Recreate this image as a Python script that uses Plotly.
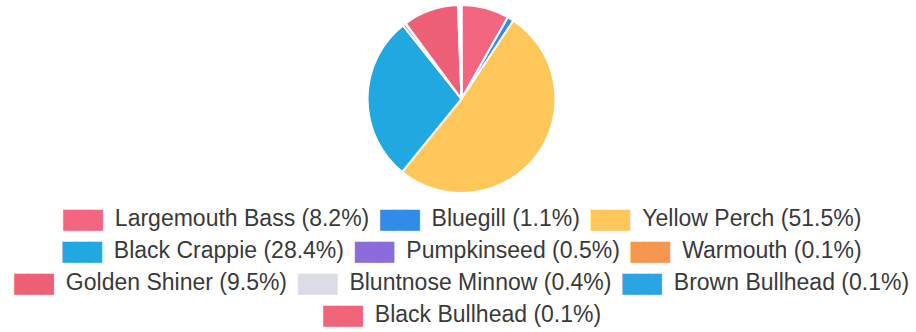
import plotly.graph_objects as go

# Catch composition by species (percent of total)
species = [
    "Largemouth Bass", "Bluegill", "Yellow Perch", "Black Crappie", "Pumpkinseed",
    "Warmouth", "Golden Shiner", "Bluntnose Minnow", "Brown Bullhead", "Black Bullhead",
]
share_pct = [8.2, 1.1, 51.5, 28.4, 0.5, 0.1, 9.5, 0.4, 0.1, 0.1]
slice_colors = [
    "#F2667F", "#2F8DE8", "#FFC65A", "#22A8E0", "#8C6CD8",
    "#F7964F", "#EE6078", "#DCDCE6", "#2AA4E2", "#EF6479",
]
# legend entries per row (indices into species)
legend_rows = [[0, 1, 2], [3, 4, 5], [6, 7, 8], [9]]

W, H = 916, 332
TEXT_FONT = "Liberation Sans, Arial, sans-serif"
TEXT_COLOR = "#3a3a3a"
NB = "\u00a0"
ITEM_GAP = "\u2002"

fig = go.Figure(
    go.Pie(
        labels=species,
        values=share_pct,
        sort=False,
        direction="clockwise",
        rotation=0,
        marker=dict(colors=slice_colors, line=dict(color="white", width=2)),
        textinfo="none",
        showlegend=False,
        domain=dict(x=[367.5 / W, 555.5 / W], y=[1 - 193 / H, 1 - 5 / H]),
    )
)


def swatch(color):
    # solid colour box built from full-block glyphs; the stroke closes the seams
    return (
        f'<span style="font-family:DejaVu Sans;font-size:16.5px;'
        f'stroke:{color};stroke-width:1.2px;color:{color}">\u2588\u2588\u2588</span>'
    )


row_centers = [218, 250, 282, 314]
for row, yc in zip(legend_rows, row_centers):
    items = [
        swatch(slice_colors[i]) + NB * 2 + f"{species[i]} ({share_pct[i]:.1f}%)"
        for i in row
    ]
    fig.add_annotation(
        x=461.5 / W,
        y=1 - yc / H,
        xref="paper",
        yref="paper",
        xanchor="center",
        yanchor="middle",
        showarrow=False,
        text=ITEM_GAP.join(items),
        font=dict(family=TEXT_FONT, size=23, color=TEXT_COLOR),
    )

fig.update_layout(
    width=W,
    height=H,
    margin=dict(l=0, r=0, t=0, b=0),
    paper_bgcolor="white",
    plot_bgcolor="white",
)

fig.write_html("out.html")
